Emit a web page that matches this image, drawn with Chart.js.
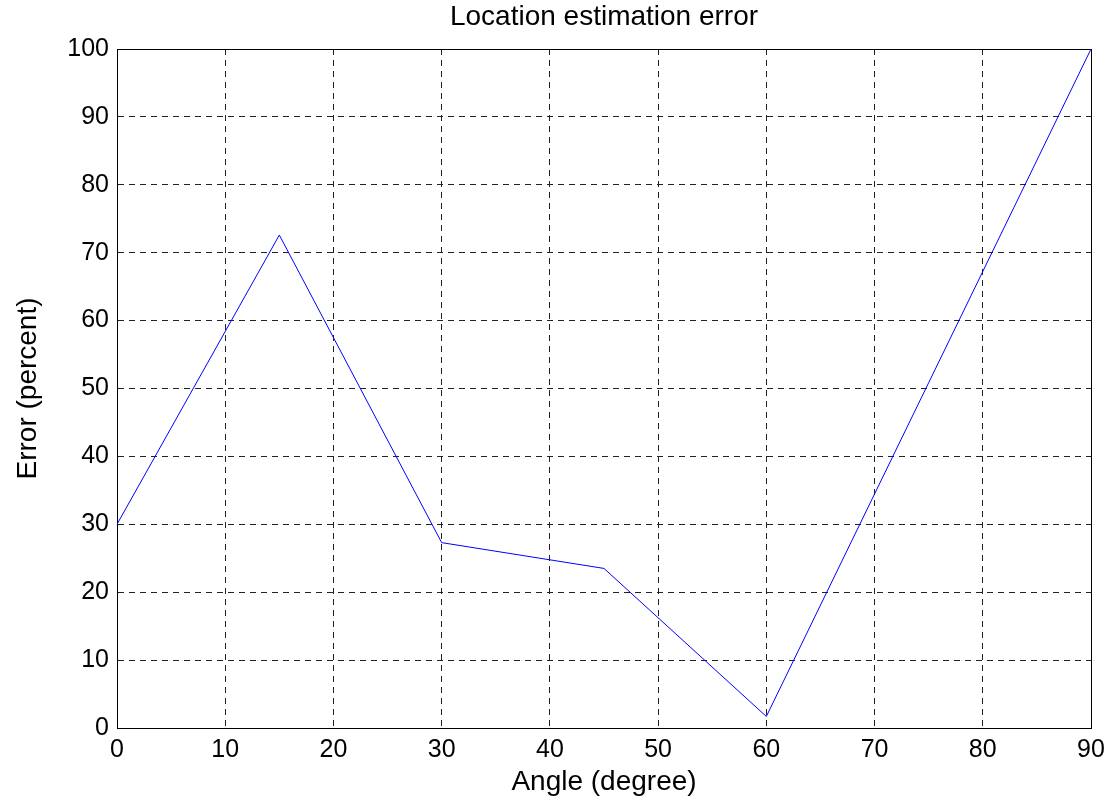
<!DOCTYPE html>
<html>
<head>
<meta charset="utf-8">
<script src="https://cdn.jsdelivr.net/npm/chart.js@4/dist/chart.umd.min.js"></script>
<style>
  html, body { margin: 0; padding: 0; background: #fff; }
  #wrap { width: 1109px; height: 799px; }
</style>
</head>
<body>
<div id="wrap"><canvas id="c" width="1109" height="799"></canvas></div>
<script>
const angles = [0, 15, 30, 45, 60, 90];
const errors = [30.0, 72.6, 27.3, 23.5, 1.7, 100.0];
const xTicks = [0, 10, 20, 30, 40, 50, 60, 70, 80, 90];
const yTicks = [0, 10, 20, 30, 40, 50, 60, 70, 80, 90, 100];
const chartTitle = 'Location estimation error';
const xLabel = 'Angle (degree)';
const yLabel = 'Error (percent)';

const FONT = '"Liberation Sans", Arial, Helvetica, sans-serif';

const frame = {
  id: 'frame',
  beforeDatasetsDraw(chart) {
    const a = chart.chartArea, ctx = chart.ctx;
    ctx.save();
    ctx.strokeStyle = '#000';
    ctx.lineWidth = 1;
    ctx.setLineDash([]);
    ctx.strokeRect(Math.round(a.left) + 0.5, Math.round(a.top) + 0.5,
                   Math.round(a.right - a.left), Math.round(a.bottom - a.top));
    ctx.restore();
  }
};

new Chart(document.getElementById('c'), {
  type: 'scatter',
  data: {
    datasets: [{
      data: angles.map((a, i) => ({x: a, y: errors[i]})),
      showLine: true,
      borderColor: '#0000ff',
      backgroundColor: '#0000ff',
      borderWidth: 1,
      pointRadius: 0,
      tension: 0,
      xAxisID: 'x',
      yAxisID: 'y'
    }]
  },
  options: {
    responsive: false,
    animation: false,
    layout: { padding: { left: 0, right: 18, top: 0, bottom: 0 } },
    plugins: {
      legend: { display: false },
      tooltip: { enabled: false },
      title: { display: false }
    },
    scales: {
      x: {
        type: 'linear',
        position: 'bottom',
        min: 0, max: 90,
        afterBuildTicks(axis) { axis.ticks = xTicks.map(v => ({value: v})); },
        afterFit(axis) { axis.height = 71; axis.paddingLeft = 0; axis.paddingRight = 0; },
        ticks: {
          color: '#000',
          font: { family: FONT, size: 25 },
          padding: 7,
          maxRotation: 0,
          autoSkip: false
        },
        grid: {
          color: '#222',
          lineWidth: 1,
          drawTicks: false
        },
        border: { display: true, color: '#000', width: 1, dash: [6, 5] },
        title: {
          display: true,
          text: xLabel,
          color: '#000',
          font: { family: FONT, size: 28 },
          padding: { top: 0, bottom: 0 }
        }
      },
      xTop: {
        type: 'linear',
        position: 'top',
        min: 0, max: 90,
        afterFit(axis) { axis.height = 49; axis.paddingLeft = 0; axis.paddingRight = 0; },
        ticks: { display: false },
        grid: { display: false, drawTicks: false },
        border: { display: false },
        title: {
          display: true,
          text: chartTitle,
          color: '#000',
          font: { family: FONT, size: 28 },
          padding: { top: 0, bottom: 0 }
        }
      },
      y: {
        type: 'linear',
        min: 0, max: 100,
        afterBuildTicks(axis) { axis.ticks = yTicks.map(v => ({value: v})); },
        afterFit(axis) { axis.width = 117; },
        ticks: {
          color: '#000',
          font: { family: FONT, size: 25 },
          padding: 8,
          autoSkip: false
        },
        grid: {
          color: '#222',
          lineWidth: 1,
          drawTicks: false
        },
        border: { display: true, color: '#000', width: 1, dash: [6, 5] },
        title: {
          display: true,
          text: yLabel,
          color: '#000',
          font: { family: FONT, size: 28 },
          padding: { top: 11, bottom: 0 }
        }
      }
    }
  },
  plugins: [frame]
});
</script>
</body>
</html>
